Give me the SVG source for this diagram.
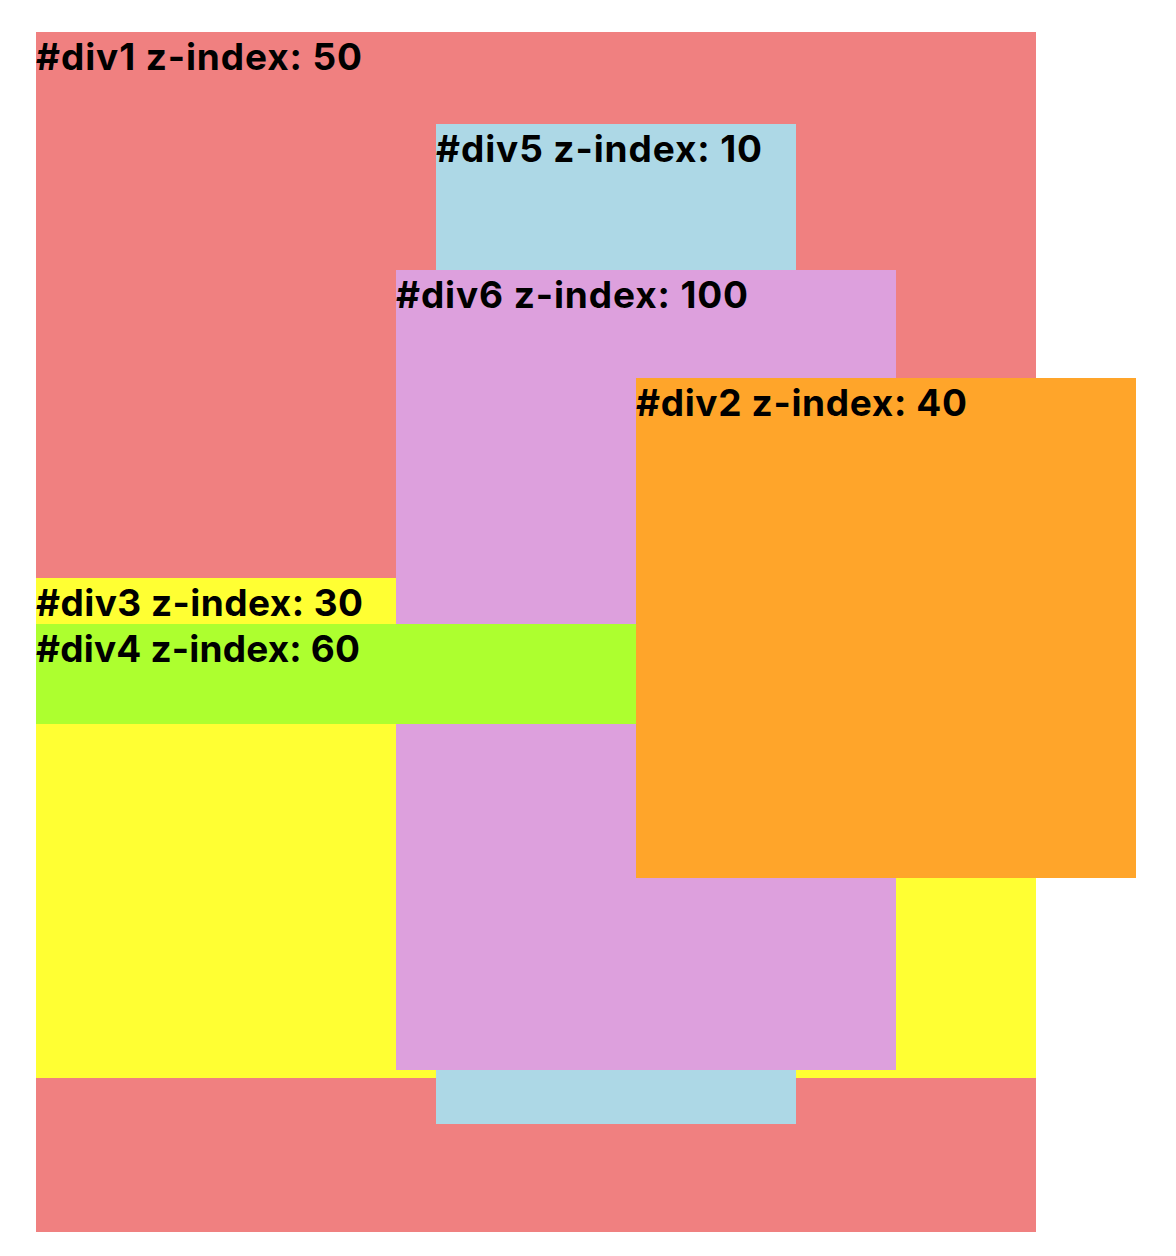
<svg xmlns="http://www.w3.org/2000/svg" width="1176" height="1256" viewBox="0 0 1176 1256">
<style>
text{font-family:Inter,"Noto Sans","Liberation Sans",sans-serif;font-weight:700;font-size:37px;fill:#000}
</style>
<rect width="1176" height="1256" fill="#fff"/>
<g id="div1"><rect x="36" y="32" width="1000" height="1200" fill="#F08080"/><text x="36" y="70" textLength="326" lengthAdjust="spacing">#div1 z-index: 50</text></g>
<g id="div3"><rect x="36" y="578" width="1000" height="500" fill="#FFFF33"/><text x="36" y="616" textLength="327" lengthAdjust="spacing">#div3 z-index: 30</text></g>
<g id="div5"><rect x="436" y="124" width="360" height="1000" fill="#ADD8E6"/><text x="436" y="162" textLength="326" lengthAdjust="spacing">#div5 z-index: 10</text></g>
<g id="div6"><rect x="396" y="270" width="500" height="800" fill="#DDA0DD"/><text x="396" y="308" textLength="352" lengthAdjust="spacing">#div6 z-index: 100</text></g>
<g id="div4"><rect x="36" y="624" width="600" height="100" fill="#ADFF2F"/><text x="36" y="662" textLength="324" lengthAdjust="spacing">#div4 z-index: 60</text></g>
<g id="div2"><rect x="636" y="378" width="500" height="500" fill="#FFA52A"/><text x="636" y="416" textLength="331" lengthAdjust="spacing">#div2 z-index: 40</text></g>
<g id="connectors"/>
</svg>
